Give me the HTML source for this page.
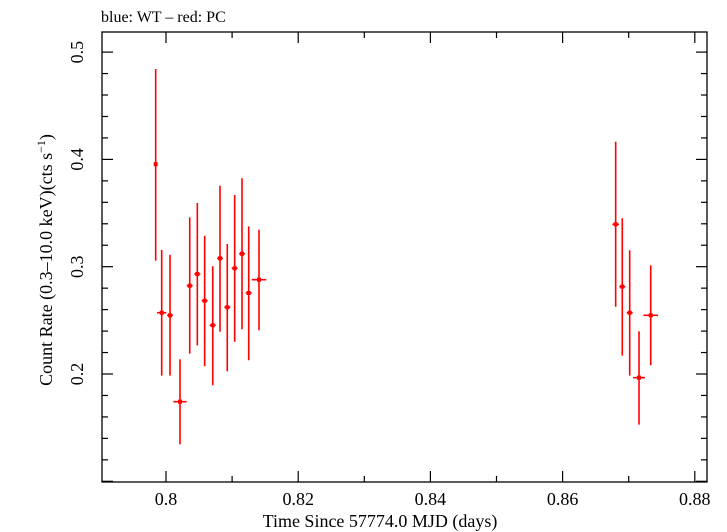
<!DOCTYPE html>
<html><head><meta charset="utf-8"><style>
html,body{margin:0;padding:0;background:#fff}
svg{display:block;font-family:"Liberation Serif",serif}
</style></head><body>
<svg id="chart" width="727" height="532" viewBox="0 0 727 532" xmlns="http://www.w3.org/2000/svg">
<text x="101" y="22" font-size="16">blue: WT – red: PC</text>
<rect x="102" y="32" width="605" height="450" fill="none" stroke="#000" stroke-width="1.3"/>
<g id="ticks"></g>
<g id="marks"></g>
<text x="380" y="527" font-size="18" text-anchor="middle">Time Since 57774.0 MJD (days)</text>
<text transform="translate(52,260) rotate(-90)" font-size="18" text-anchor="middle">Count Rate (0.3–10.0 keV)(cts s<tspan font-size="12" dy="-7">−1</tspan><tspan dy="7">)</tspan></text>
</svg>
<script>
const times=[0.79844,0.79935,0.80061,0.80212,0.80359,0.80474,0.80585,0.80707,0.80817,0.80927,0.81039,0.81150,0.81251,0.81407,0.86803,0.86903,0.87015,0.87156,0.87333];
const timeErr=[0.0002,0.0007,0.00045,0.001,0.00045,0.00045,0.00045,0.00045,0.00045,0.00045,0.00045,0.00045,0.00045,0.0011,0.0005,0.00045,0.00045,0.0009,0.0011];
const rates=[0.3955,0.2571,0.2547,0.1742,0.2823,0.2932,0.2683,0.2454,0.3078,0.2622,0.2985,0.3121,0.2755,0.2879,0.3395,0.2814,0.2571,0.1966,0.2547];
const rateHi=[0.4843,0.3156,0.3110,0.2137,0.3460,0.3594,0.3289,0.3004,0.3755,0.3211,0.3668,0.3824,0.3376,0.3345,0.4165,0.3451,0.3153,0.2398,0.3013];
const rateLo=[0.3056,0.1985,0.1985,0.1345,0.2190,0.2267,0.2072,0.1895,0.2394,0.2025,0.2301,0.2417,0.2128,0.2407,0.2627,0.2171,0.1985,0.1528,0.2081];
const xTickLabels=["0.8","0.82","0.84","0.86","0.88"];
const yTickLabels=["0.2","0.3","0.4","0.5"];
const NS="http://www.w3.org/2000/svg";
const X0=102,X1=707,Y0=32,Y1=482;
function xs(t){return 166+(t-0.8)*6610;}
function ys(v){return 374-(v-0.2)*1073;}
function mk(tag,attrs,parent){const e=document.createElementNS(NS,tag);for(const k in attrs)e.setAttribute(k,attrs[k]);parent.appendChild(e);return e;}
const tg=document.getElementById('ticks');
for(let i=0;i<=9;i++){const t=0.79+i*0.01;const x=xs(t);if(x<X0||x>X1)continue;
 const major=Math.round(t*100)%2===0;const L=major?11:6;
 let l=mk('line',{x1:x,x2:x,y1:Y1,y2:Y1-L,stroke:'#000','stroke-width':1.2},tg);
 
 l=mk('line',{x1:x,x2:x,y1:Y0,y2:Y0+L,stroke:'#000','stroke-width':1.2},tg);
 }
xTickLabels.forEach(s=>{const t=mk('text',{x:xs(parseFloat(s)),y:505,'font-size':18,'text-anchor':'middle'},tg);t.textContent=s;
 });
for(let i=0;i<=22;i++){const v=0.1+i*0.02;const y=ys(v);if(y<Y0||y>Y1)continue;
 const major=Math.round(v*100)%10===0;const L=major?11:6;
 let l=mk('line',{x1:X0,x2:X0+L,y1:y,y2:y,stroke:'#000','stroke-width':1.2},tg);
 
 l=mk('line',{x1:X1,x2:X1-L,y1:y,y2:y,stroke:'#000','stroke-width':1.2},tg);
 }
yTickLabels.forEach(s=>{const y=ys(parseFloat(s));const t=mk('text',{transform:`translate(83,${y}) rotate(-90)`,'font-size':18,'text-anchor':'middle'},tg);t.textContent=s;
 });
const mg=document.getElementById('marks');
times.forEach((t,i)=>{const g=mk('g',{},mg);
 
 mk('line',{x1:xs(t),x2:xs(t),y1:ys(rateHi[i]),y2:ys(rateLo[i]),stroke:'#f00','stroke-width':1.6},g);
 mk('line',{x1:xs(t-timeErr[i]),x2:xs(t+timeErr[i]),y1:ys(rates[i]),y2:ys(rates[i]),stroke:'#f00','stroke-width':1.6},g);
 mk('rect',{x:xs(t)-2,y:ys(rates[i])-2,width:4,height:4,fill:'#f00'},g);});
</script>
</body></html>
